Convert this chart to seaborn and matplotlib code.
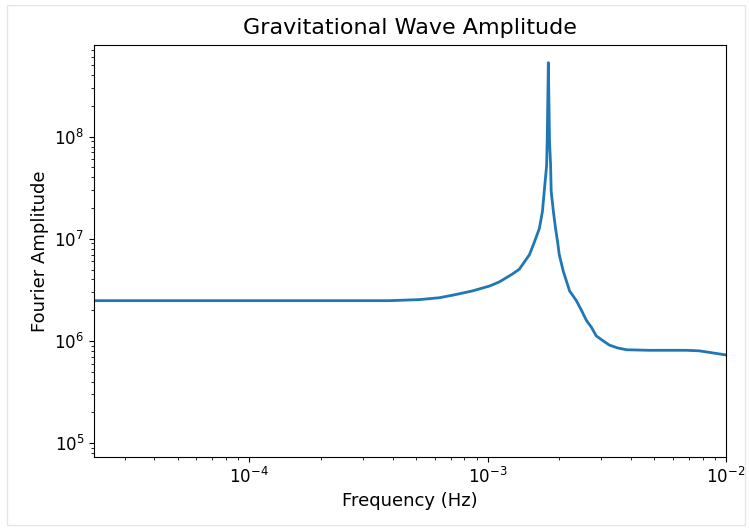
import numpy as np
import pandas as pd
import seaborn as sns
import matplotlib.pyplot as plt
from matplotlib.patches import Rectangle

# Spectrum (frequency in Hz, Fourier amplitude)
freq = [2.23e-5, 1.0e-4, 3.88e-4, 5.19e-4, 6.29e-4, 7.27e-4, 8.65e-4, 1.02e-3,
        1.12e-3, 1.27e-3, 1.36e-3, 1.50e-3, 1.57e-3, 1.65e-3, 1.70e-3, 1.73e-3,
        1.77e-3, 1.78e-3, 1.80e-3, 1.82e-3, 1.84e-3, 1.85e-3, 1.89e-3, 1.93e-3,
        1.97e-3, 2.00e-3, 2.08e-3, 2.21e-3, 2.36e-3, 2.48e-3, 2.60e-3, 2.73e-3,
        2.86e-3, 3.10e-3, 3.25e-3, 3.51e-3, 3.83e-3, 4.78e-3, 6.83e-3, 7.74e-3,
        1.0e-2]
amp = [2.48e6, 2.48e6, 2.48e6, 2.54e6, 2.65e6, 2.83e6, 3.09e6, 3.45e6,
       3.78e6, 4.51e6, 5.04e6, 7.0e6, 9.2e6, 1.26e7, 1.85e7, 2.92e7,
       5.2e7, 9.1e7, 5.3e8, 9.1e7, 5.2e7, 2.92e7, 1.85e7, 1.26e7,
       9.2e6, 7.0e6, 4.8e6, 3.09e6, 2.48e6, 1.99e6, 1.59e6, 1.36e6,
       1.12e6, 9.8e5, 9.1e5, 8.55e5, 8.2e5, 8.1e5, 8.1e5, 8.0e5,
       7.3e5]

df = pd.DataFrame({"Frequency (Hz)": freq, "Fourier Amplitude": amp})

fig = plt.figure(figsize=(7.49, 5.29), dpi=100)
ax = fig.add_axes([0.1255, 0.136, 0.969 - 0.1255, 0.915 - 0.136])

sns.lineplot(data=df, x="Frequency (Hz)", y="Fourier Amplitude", ax=ax,
             color="#1f77b4", linewidth=2)

ax.set_xscale("log")
ax.set_yscale("log")
ax.set_xlim(2.23e-5, 1e-2)
ax.set_ylim(7.3e4, 7.9e8)

ax.set_title("Gravitational Wave Amplitude", fontsize=16, pad=8)
ax.set_xlabel("Frequency (Hz)", fontsize=13)
ax.set_ylabel("Fourier Amplitude", fontsize=13)
ax.tick_params(axis="both", which="major", labelsize=12)

# faint screenshot frame
fig.patches.append(Rectangle((0.01, 0.008), 0.985, 0.982, transform=fig.transFigure,
                             fill=False, edgecolor="#e6e6e6", linewidth=1))

fig.savefig("out.png", dpi=100)
